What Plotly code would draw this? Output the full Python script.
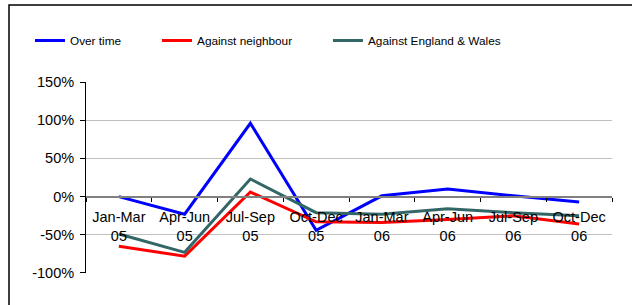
import plotly.graph_objects as go

categories = ["Jan-Mar<br>05", "Apr-Jun<br>05", "Jul-Sep<br>05", "Oct-Dec<br>05",
              "Jan-Mar<br>06", "Apr-Jun<br>06", "Jul-Sep<br>06", "Oct-Dec<br>06"]
over_time = [0, -23, 96, -44, 1, 10, 1, -7]
against_neighbour = [-65, -78, 6, -33, -34, -30, -25, -36]
against_ew = [-49, -73, 23, -21, -23, -16, -21, -25]
y_tickvals = [-100, -50, 0, 50, 100, 150]
y_ticktext = ["-100%", "-50%", "0%", "50%", "100%", "150%"]

FONT = "Liberation Sans, Arial, sans-serif"

fig = go.Figure()
fig.add_trace(go.Scatter(x=categories, y=over_time, mode="lines", name="Over time",
                         line=dict(color="#0000FF", width=3), legend="legend"))
fig.add_trace(go.Scatter(x=categories, y=against_neighbour, mode="lines", name="Against neighbour",
                         line=dict(color="#FF0000", width=3), legend="legend2"))
fig.add_trace(go.Scatter(x=categories, y=against_ew, mode="lines", name="Against England & Wales",
                         line=dict(color="#336666", width=3), legend="legend3"))

leg_common = dict(orientation="h", xanchor="left", yanchor="middle", y=(273 - 40.5) / 191,
                  font=dict(family=FONT, size=11.8, color="black"),
                  bgcolor="rgba(0,0,0,0)", itemwidth=30)

fig.update_layout(
    width=632, height=305,
    margin=dict(l=86, r=20, t=82, b=32, autoexpand=False),
    paper_bgcolor="white", plot_bgcolor="white",
    font=dict(family=FONT, size=12, color="black"),
    showlegend=True,
    legend=dict(x=-0.1065, **leg_common),
    legend2=dict(x=0.135, **leg_common),
    legend3=dict(x=0.46, **leg_common),
    xaxis=dict(type="category", range=[-0.5, 7.5], anchor="free", position=0.4,
               showline=True, linecolor="#808080", linewidth=2,
               ticks="outside", tickson="boundaries", ticklen=4, tickcolor="#000000",
               ticklabelstandoff=7,
               showgrid=False, zeroline=False, automargin=False,
               tickfont=dict(family=FONT, size=14.5, color="black")),
    yaxis=dict(range=[-100.01, 150.01], tickvals=y_tickvals, ticktext=y_ticktext,
               showline=True, linecolor="black", linewidth=1,
               ticks="outside", ticklen=5, tickcolor="black", automargin=False,
               ticklabelstandoff=3,
               showgrid=True, gridcolor="#C0C0C0", gridwidth=1, zeroline=False,
               tickfont=dict(family=FONT, size=14.5, color="black")),
    shapes=[dict(type="rect", xref="paper", yref="paper",
                 x0=(9 - 86) / 526, x1=1.3, y0=-0.5, y1=(273 - 5) / 191,
                 line=dict(color="black", width=1.5), fillcolor="rgba(0,0,0,0)", layer="below")],
)

fig.write_html("out.html", config={"displayModeBar": False},
               post_script="document.body.style.margin='0';")
